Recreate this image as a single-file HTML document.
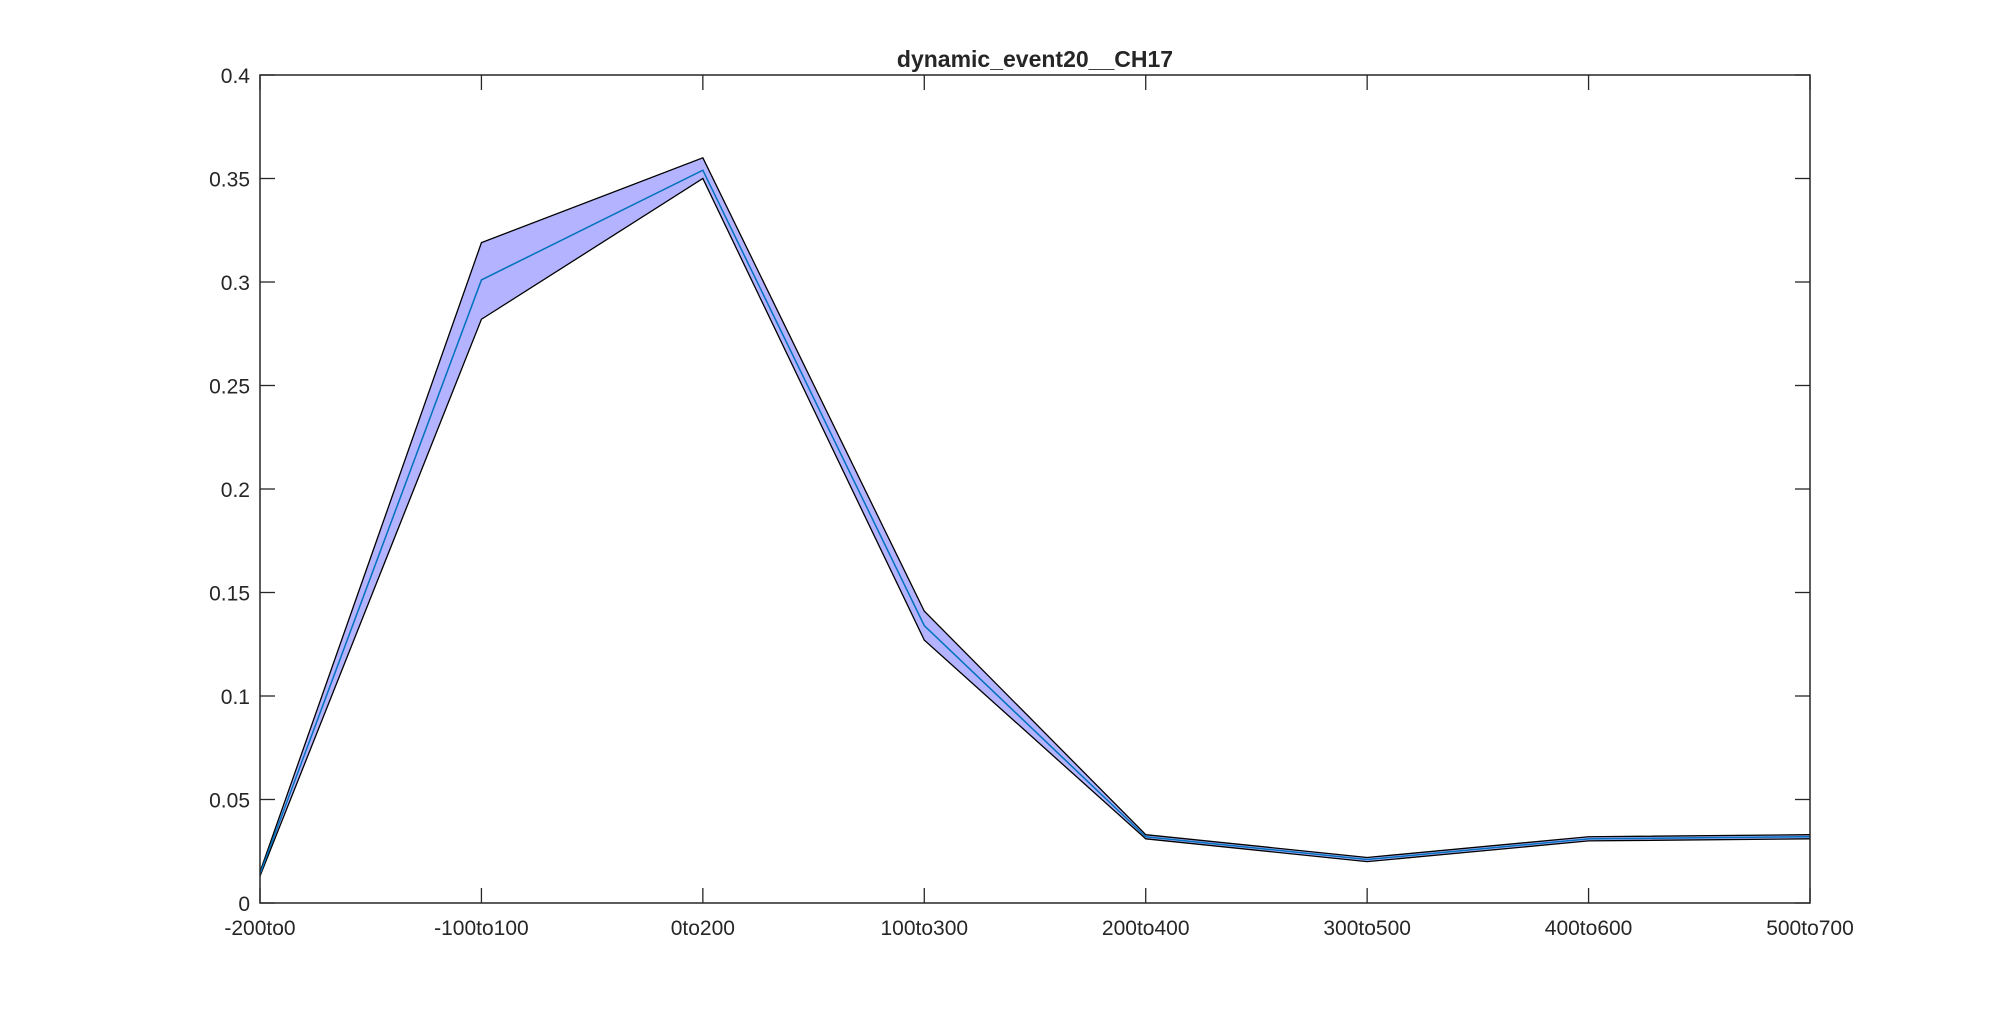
<!DOCTYPE html>
<html><head><meta charset="utf-8"><style>
body{margin:0;background:#fff;}
svg text{font-family:"Liberation Sans",Arial,sans-serif;fill:#262626;}
</style></head><body>
<svg id="chart" width="2000" height="1016" xmlns="http://www.w3.org/2000/svg">
<rect width="2000" height="1016" fill="#fff"/>
<g id="plot"></g>
</svg>
<script>
const categories=["-200to0","-100to100","0to200","100to300","200to400","300to500","400to600","500to700"];
const meanValues=[0.014,0.301,0.354,0.134,0.032,0.021,0.031,0.032];
const upperValues=[0.015,0.319,0.360,0.141,0.033,0.022,0.032,0.033];
const lowerValues=[0.013,0.282,0.350,0.127,0.031,0.020,0.030,0.031];
const yTicks=[0,0.05,0.1,0.15,0.2,0.25,0.3,0.35,0.4];
const yTickLabels=["0","0.05","0.1","0.15","0.2","0.25","0.3","0.35","0.4"];
const L=260,R=1810,T=75,B=903;
const xs=i=>L+i*(R-L)/(categories.length-1);
const ys=v=>B-(v/0.4)*(B-T);
const NS="http://www.w3.org/2000/svg";
const g=document.getElementById('plot');
function mk(tag,attrs){const e=document.createElementNS(NS,tag);for(const k in attrs)e.setAttribute(k,attrs[k]);g.appendChild(e);return e;}
let pts=upperValues.map((v,i)=>xs(i)+','+ys(v)).concat(lowerValues.map((v,i)=>[i,v]).reverse().map(([i,v])=>xs(i)+','+ys(v)));
const band=mk('polygon',{points:pts.join(' '),fill:'rgb(179,179,255)',stroke:'none'});


const up=mk('polyline',{points:upperValues.map((v,i)=>xs(i)+','+ys(v)).join(' '),fill:'none',stroke:'#000','stroke-width':1.3});


const lo=mk('polyline',{points:lowerValues.map((v,i)=>xs(i)+','+ys(v)).join(' '),fill:'none',stroke:'#000','stroke-width':1.3});


const mn=mk('polyline',{points:meanValues.map((v,i)=>xs(i)+','+ys(v)).join(' '),fill:'none',stroke:'#0072BD','stroke-width':1.5});


const box=mk('rect',{x:L,y:T,width:R-L,height:B-T,fill:'none',stroke:'#262626','stroke-width':1.5});


categories.forEach((c,i)=>{
 const x=xs(i);
 const t1=mk('line',{x1:x,y1:B,x2:x,y2:B-15,stroke:'#262626','stroke-width':1.3});
 
 
 const t2=mk('line',{x1:x,y1:T,x2:x,y2:T+15,stroke:'#262626','stroke-width':1.3});
 
 
 const tx=mk('text',{x:x,y:B+32,'text-anchor':'middle','font-size':21});
 tx.textContent=c;
 
 
});
yTicks.forEach((v,i)=>{
 const y=ys(v);
 const t1=mk('line',{x1:L,y1:y,x2:L+15,y2:y,stroke:'#262626','stroke-width':1.3});
 
 
 const t2=mk('line',{x1:R,y1:y,x2:R-15,y2:y,stroke:'#262626','stroke-width':1.3});
 
 
 const tx=mk('text',{x:L-10,y:y+8,'text-anchor':'end','font-size':21});
 tx.textContent=yTickLabels[i];
 
 
});
const title=mk('text',{x:(L+R)/2,y:67,'text-anchor':'middle','font-size':23,'font-weight':'bold'});
title.textContent='dynamic_event20__CH17';


</script>
</body></html>
